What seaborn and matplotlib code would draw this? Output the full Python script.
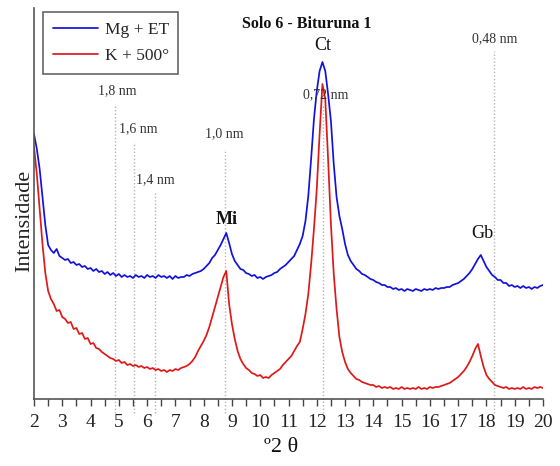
import numpy as np
import pandas as pd
import matplotlib
matplotlib.use("Agg")
import matplotlib.pyplot as plt
import seaborn as sns

# ---- data (intensity, arbitrary units; 2θ from 2.0 to 20.0 step 0.1) ----
mg_et = [
    265, 250, 230, 202, 174, 154, 149, 146, 150, 143,
    141, 139, 140, 136, 137, 134, 135, 132, 133, 130,
    131, 128, 130, 127, 128, 125, 127, 124, 126, 123,
    125, 122, 124, 122, 123, 121, 124, 122, 123, 121,
    124, 122, 123, 121, 124, 122, 123, 121, 123, 120,
    123, 121, 122, 122, 124, 123, 125, 126, 127, 128,
    130, 133, 136, 141, 144, 149, 154, 160, 166, 156,
    145, 138, 134, 130, 129, 126, 125, 123, 124, 121,
    122, 120, 122, 123, 124, 126, 127, 130, 132, 134,
    137, 140, 143, 149, 155, 163, 178, 203, 240, 280,
    308, 328, 337, 328, 305, 278, 235, 202, 183, 170,
    155, 144, 138, 134, 130, 128, 125, 124, 122, 120,
    119, 117, 116, 114, 114, 112, 112, 110, 111, 109,
    110, 108, 110, 109, 108, 110, 109, 108, 110, 109,
    110, 109, 111, 110, 111, 111, 112, 112, 114, 115,
    116, 118, 120, 123, 126, 130, 135, 140, 144, 138,
    132, 128, 124, 122, 119, 119, 116, 116, 113, 114,
    112, 113, 111, 113, 111, 112, 110, 112, 111, 113,
    114,
]
k_500 = [
    252, 225, 190, 155, 126, 108, 100, 95, 88, 89,
    82, 80, 76, 77, 70, 71, 65, 66, 60, 61,
    55, 56, 51, 50, 47, 45, 43, 41, 40, 38,
    39, 36, 37, 34, 35, 33, 34, 32, 33, 31,
    32, 30, 31, 29, 30, 28, 29, 27, 29, 28,
    30, 29, 31, 32, 33, 35, 38, 42, 48, 53,
    58, 64, 72, 82, 92, 102, 112, 122, 128, 95,
    75, 60, 48, 40, 35, 31, 29, 26, 25, 23,
    24, 21, 22, 21, 24, 26, 28, 30, 34, 37,
    40, 43, 48, 53, 57, 70, 85, 105, 135, 170,
    210, 265, 315, 300, 240, 175, 125, 90, 62, 47,
    37, 30, 26, 23, 20, 19, 17, 16, 15, 14,
    14, 12, 13, 11, 12, 11, 12, 10, 11, 10,
    12, 10, 11, 10, 11, 10, 12, 10, 11, 10,
    12, 11, 12, 12, 13, 14, 15, 16, 18, 20,
    22, 25, 28, 32, 37, 43, 50, 55, 43, 32,
    24, 20, 17, 14, 13, 12, 11, 12, 10, 11,
    10, 11, 10, 12, 10, 11, 10, 12, 11, 12,
    11,
]
series_names = ["Mg + ET", "K + 500°"]
series_colors = ["#1212dc", "#e01818"]

# d-spacing reference lines (2θ positions) and labels
dline_pos = [4.85, 5.52, 6.28, 8.75, 12.22, 18.28]
dline_top = [293, 257, 208, 250, 295, 348]
dline_labels = ["1,8 nm", "1,6 nm", "1,4 nm", "1,0 nm", "0,72 nm", "0,48 nm"]
dlabel_pos = [(4.94, 308), (5.69, 270), (6.29, 219), (8.74, 265), (12.32, 304), (18.3, 360)]

mineral_labels = ["Ct", "Mi", "Gb"]
mineral_pos = [(12.21, 353), (8.83, 180), (17.85, 165)]
mineral_bold = [False, True, False]

theta = np.linspace(2.0, 20.0, len(mg_et))
df = pd.DataFrame({
    "theta": np.concatenate([theta, theta]),
    "intensity": np.concatenate([mg_et, k_500]),
    "amostra": [series_names[0]] * len(mg_et) + [series_names[1]] * len(k_500),
})

sns.set_theme(style="white")
plt.rcParams["font.family"] = ["Liberation Serif", "DejaVu Serif"]

W, H = 560, 466
fig = plt.figure(figsize=(W / 100, H / 100), dpi=100)
ax = fig.add_axes([34 / W, (H - 399) / H, 509 / W, 391 / H])

for name, col in zip(series_names, series_colors):
    sub = df[df["amostra"] == name]
    sns.lineplot(data=sub, x="theta", y="intensity", color=col, lw=1.25,
                 label=name, ax=ax, estimator=None)

ax.set_xlim(2, 20)
ax.set_ylim(0, 391)

for x, top in zip(dline_pos, dline_top):
    ax.vlines(x, -14, top, colors="#b5b5b5", linestyles=(0, (1, 1.5)), lw=1.0,
              clip_on=False, zorder=0)
for lab, (x, y) in zip(dline_labels, dlabel_pos):
    ax.text(x, y, lab, ha="center", va="center", fontsize=10, color="#333333")
for lab, (x, y), b in zip(mineral_labels, mineral_pos, mineral_bold):
    ax.text(x, y, lab, ha="center", va="center", fontsize=13,
            fontweight="bold" if b else "normal", color="#111111")

ax.text(11.65, 375, "Solo 6 - Bituruna 1", ha="center", va="center",
        fontsize=11.5, fontweight="bold", color="#111111")

ax.set_xticks(range(2, 21))
ax.set_xticks(np.arange(2.5, 20, 1.0), minor=True)
ax.set_yticks([])
ax.tick_params(axis="x", which="both", direction="out", length=5, width=1.0,
               color="#444444", labelsize=14, pad=6, labelcolor="#222222",
               bottom=True)
for s in ["top", "right"]:
    ax.spines[s].set_visible(False)
for s in ["left", "bottom"]:
    ax.spines[s].set_color("#555555")
    ax.spines[s].set_linewidth(1.2)

ax.set_xlabel("º2 θ", fontsize=16, labelpad=5, color="#111111", x=0.485)
ax.set_ylabel("Intensidade", fontsize=16, labelpad=0, color="#222222", y=0.455)

leg = ax.legend(loc="upper left", bbox_to_anchor=(0.0177, 0.99), borderaxespad=0,
                fontsize=12.5, frameon=True, fancybox=False, framealpha=1,
                edgecolor="#666666", handlelength=2.6, handletextpad=0.4,
                labelspacing=0.6, borderpad=0.55)
leg.get_frame().set_linewidth(1.2)

fig.savefig("out.png", dpi=100)
